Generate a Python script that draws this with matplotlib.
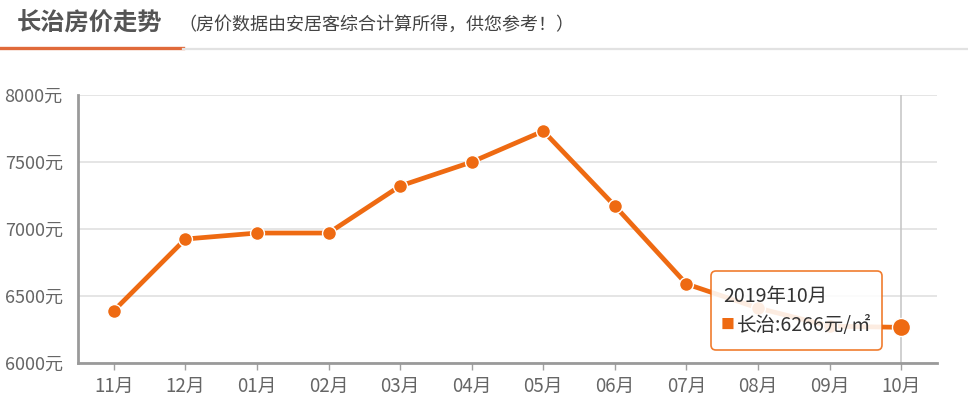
import numpy as np
import matplotlib.pyplot as plt
from matplotlib.patches import FancyBboxPatch
from matplotlib.lines import Line2D
from matplotlib.transforms import IdentityTransform

plt.rcParams['font.family'] = ['Noto Sans CJK SC', 'DejaVu Sans']

# data
months = ['11月', '12月', '01月', '02月', '03月', '04月', '05月', '06月', '07月', '08月', '09月', '10月']
prices = [6390, 6925, 6970, 6970, 7321, 7500, 7731, 7172, 6590, 6410, 6275, 6266]
yticks = [6000, 6500, 7000, 7500, 8000]
title = '长治房价走势'
subtitle = '（房价数据由安居客综合计算所得，供您参考！）'
tip_title = '2019年10月'
tip_city = '长治'

W, H = 968, 408
fig = plt.figure(figsize=(W / 100, H / 100), dpi=100)


def fx(px):
    return px / W


def fy(py):
    return 1 - py / H


orange = '#ee6a12'
gray_txt = '#666666'

#---------------------------------------------------------------------
# header
#---------------------------------------------------------------------
fig.text(fx(17), fy(24), title, fontsize=17.5, fontweight='bold', color='#555555', va='center')
fig.text(fx(178), fy(25), subtitle, fontsize=13, color='#444444', va='center')
fig.add_artist(Line2D([0, fx(183)], [fy(48), fy(48)], color='#e06a3a', lw=2.4))
fig.add_artist(Line2D([fx(183), 1], [fy(49), fy(49)], color='#e2e2e2', lw=1.6))

#---------------------------------------------------------------------
# line chart
#---------------------------------------------------------------------
ax = fig.add_axes([fx(78), fy(363), fx(937) - fx(78), fy(95) - fy(363)])
x = np.arange(len(months))
ax.plot(x, prices, color=orange, lw=3.4, marker='o', ms=10, mec='white', mew=1,
        zorder=3, solid_capstyle='round', solid_joinstyle='round')
ax.plot(x[-1], prices[-1], 'o', color=orange, ms=13, mec='white', mew=1, zorder=4)
ax.axvline(x[-1], color='#c8c8c8', lw=1.2, zorder=1)

ax.set_xlim(-0.5, 11.5)
ax.set_ylim(6000, 8000)
ax.set_yticks(yticks)
ax.set_yticklabels([f'{v}元' for v in yticks])
ax.set_xticks(x)
ax.set_xticklabels(months)
ax.grid(axis='y', color='#e0e0e0', lw=1.2)
ax.set_axisbelow(True)
for s in ['top', 'right']:
    ax.spines[s].set_visible(False)
for s in ['left', 'bottom']:
    ax.spines[s].set_color('#9a9a9a')
    ax.spines[s].set_linewidth(2)
ax.tick_params(axis='y', length=0, pad=11, labelsize=13, labelcolor=gray_txt)
ax.tick_params(axis='x', length=5, width=1, color='#a0a0a0', pad=4, labelsize=13.5, labelcolor=gray_txt)

#---------------------------------------------------------------------
# tooltip
#---------------------------------------------------------------------
box = FancyBboxPatch((711, H - 350), 171, 79, boxstyle='round,pad=0,rounding_size=5',
                     transform=IdentityTransform(), facecolor='white', alpha=0.88,
                     edgecolor=orange, lw=1.2, zorder=10)
fig.add_artist(box)
fig.text(fx(723), fy(296), tip_title, fontsize=14, color='#333333', va='center', zorder=11)
fig.text(fx(721), fy(325), '■', fontsize=10, color=orange, va='center', zorder=11)
fig.text(fx(737), fy(325), f'{tip_city}:{prices[-1]}元/㎡', fontsize=14, color='#333333',
         va='center', zorder=11)

plt.savefig('out.png', dpi=100)
